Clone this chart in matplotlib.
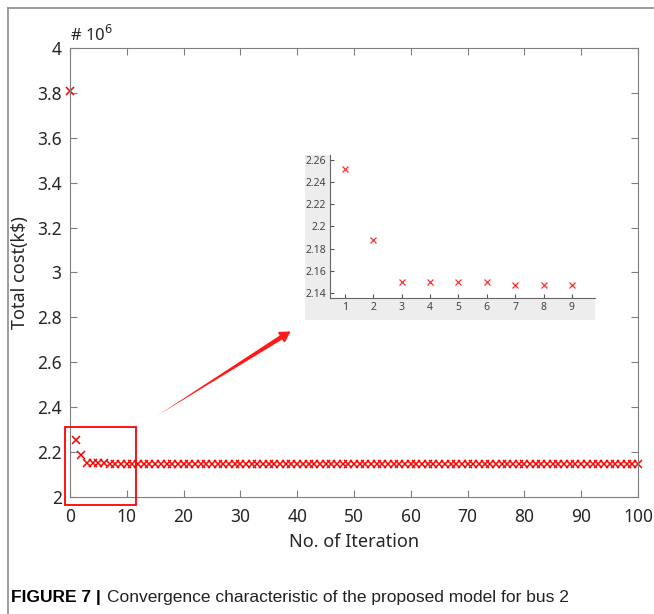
import matplotlib
matplotlib.use("Agg")
import matplotlib.pyplot as plt
from matplotlib.patches import Rectangle
from matplotlib.lines import Line2D

# total cost per iteration, in units of 10^6
iters = list(range(0, 101))
cost = [3.81, 2.252, 2.188, 2.150, 2.150, 2.150, 2.150] + [2.147] * 94

# zoomed view (iterations 1..9)
zoomIters = [1, 2, 3, 4, 5, 6, 7, 8, 9]
zoomCost = [2.252, 2.188, 2.150, 2.150, 2.150, 2.150, 2.147, 2.147, 2.147]

xTicks = [0, 10, 20, 30, 40, 50, 60, 70, 80, 90, 100]
yTicks = [2, 2.2, 2.4, 2.6, 2.8, 3, 3.2, 3.4, 3.6, 3.8, 4]
zoomYTicks = [2.14, 2.16, 2.18, 2.2, 2.22, 2.24, 2.26]

plt.rcParams['font.family'] = ['Noto Sans', 'DejaVu Sans']
spineColor = '#7f7f7f'

fig = plt.figure(figsize=(6.54, 6.14), dpi=100)
fig.patch.set_facecolor('white')

ax = fig.add_axes([0.107, 0.1906, 0.8685, 0.7312])
ax.plot(iters, cost, 'x', color='#ff0000', markersize=6, mew=1.1, clip_on=False)
ax.set_xlim(0, 100)
ax.set_ylim(2, 4)
ax.set_xticks(xTicks)
ax.set_yticks(yTicks)
ax.set_xticklabels([str(t) for t in xTicks])
ax.set_yticklabels(['2', '2.2', '2.4', '2.6', '2.8', '3', '3.2', '3.4', '3.6', '3.8', '4'])
ax.tick_params(direction='in', top=True, right=True, length=5, color=spineColor,
               labelsize=12.5, labelcolor='#262626')
ax.tick_params(axis='x', pad=8)
ax.tick_params(axis='y', pad=6)
for s in ax.spines.values():
    s.set_color(spineColor)
ax.set_xlabel('No. of Iteration', fontsize=13, color='#262626', labelpad=5)
ax.set_ylabel('Total cost(k$)', fontsize=13, color='#262626', labelpad=6)
ax.text(0.0, 1.006, r'# 10$^{6}$', transform=ax.transAxes, fontsize=12,
        color='#262626', ha='left', va='bottom')

# red box around the first iterations
box = Rectangle((-0.88, 1.964), 12.5, 0.348, fill=False, edgecolor='#ff0000',
                linewidth=1.3, clip_on=False, zorder=5)
ax.add_patch(box)

# arrow to the zoomed view (wide near the head)
ax.annotate('', xy=(0.1496, 0.178), xytext=(0.385, 0.366), xycoords='axes fraction',
            arrowprops=dict(arrowstyle='wedge,tail_width=0.35,shrink_factor=0.5',
                            color='#ff1a1a', lw=0))
ax.annotate('', xy=(0.3926, 0.372), xytext=(0.36, 0.346), xycoords='axes fraction',
            arrowprops=dict(arrowstyle='-|>,head_length=0.6,head_width=0.35',
                            color='#ff1a1a', lw=1.5))

# gray backdrop of the zoomed view
ax.add_patch(Rectangle((0.4664, 0.4788), 0.4434, 0.2685, transform=fig.transFigure,
                       facecolor='#ededed', edgecolor='none', zorder=6, clip_on=False))

axIn = fig.add_axes([0.5046, 0.5147, 0.405, 0.2329])
axIn.set_facecolor('white')
axIn.plot(zoomIters, zoomCost, 'x', color='#ff3030', markersize=3.8, mew=0.9)
axIn.set_xlim(0.47, 9.81)
axIn.set_ylim(2.1355, 2.2645)
axIn.set_xticks(zoomIters)
axIn.set_yticks(zoomYTicks)
axIn.set_yticklabels(['2.14', '2.16', '2.18', '2.2', '2.22', '2.24', '2.26'])
axIn.tick_params(direction='in', length=3, color='#555555', labelsize=7.5,
                 labelcolor='#444444', pad=3)
axIn.spines['top'].set_visible(False)
axIn.spines['right'].set_visible(False)
axIn.spines['left'].set_color('#666666')
axIn.spines['bottom'].set_color('#666666')

# frame lines of the figure panel
fig.add_artist(Line2D([8 / 654, 8 / 654], [0, 1 - 8 / 614], color='#8c8c8c', lw=1.2))
fig.add_artist(Line2D([8 / 654, 1], [1 - 8 / 614, 1 - 8 / 614], color='#8c8c8c', lw=1.2))

# caption
capFont = ['Liberation Sans Narrow', 'Liberation Sans', 'DejaVu Sans']
fig.text(0.017, 0.02, 'FIGURE 7 |', fontsize=12.5, fontweight='bold',
         family=capFont, color='black')
fig.text(0.163, 0.02, 'Convergence characteristic of the proposed model for bus 2', fontsize=12.5,
         family=capFont, color='#222222')

fig.savefig('out.png', dpi=100)
